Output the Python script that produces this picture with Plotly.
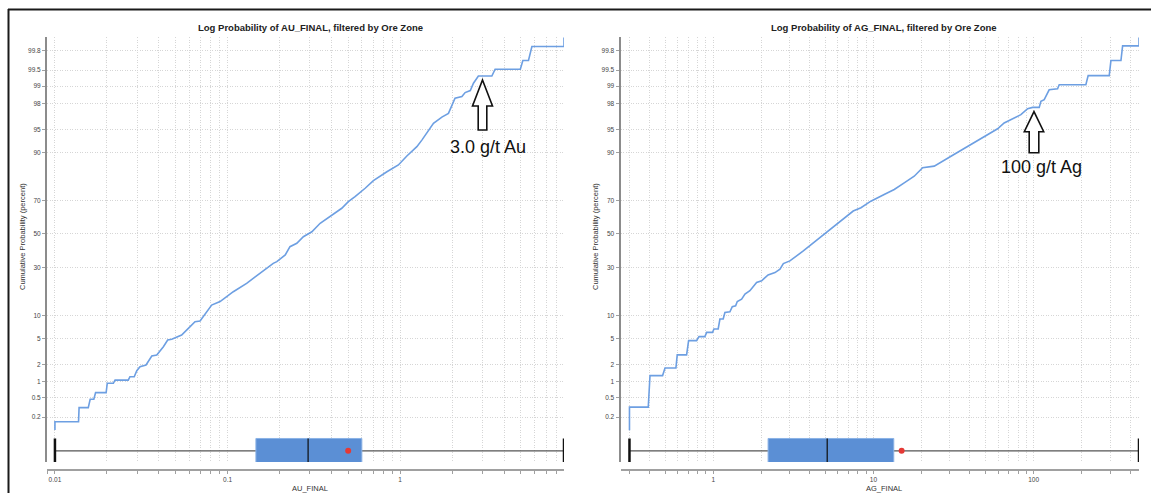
import math
from statistics import NormalDist
import plotly.graph_objects as go

# ---------------- data ----------------
au_grade = [0.01, 0.01, 0.0137, 0.0138, 0.0156, 0.0160, 0.0168, 0.0172, 0.0198, 0.0201, 0.0218, 0.0223,
            0.0266, 0.0272, 0.0288, 0.0298, 0.0311, 0.0337, 0.0364, 0.0389, 0.0425, 0.0450, 0.0475, 0.0542,
            0.0593, 0.0648, 0.0693, 0.0731, 0.0809, 0.0905, 0.108, 0.129, 0.158, 0.184, 0.193, 0.216, 0.230,
            0.252, 0.275, 0.308, 0.344, 0.402, 0.459, 0.501, 0.548, 0.627, 0.700, 0.838, 0.977, 1.094, 1.25,
            1.336, 1.56, 1.745, 1.905, 2.08, 2.28, 2.38, 2.55, 2.66, 2.84, 3.40, 3.55, 4.97, 5.14, 5.54, 5.80,
            8.9, 8.9]
au_pct = [0.103, 0.158, 0.158, 0.316, 0.316, 0.467, 0.467, 0.63, 0.63, 0.946, 0.946, 1.08, 1.08, 1.24, 1.24,
          1.58, 1.85, 1.97, 2.75, 2.85, 3.82, 4.78, 4.89, 5.61, 6.9, 8.4, 8.57, 10.1, 13.2, 14.4, 18.2, 21.9,
          27.7, 32.2, 33.2, 37.1, 42.1, 44.2, 48.3, 51.4, 56.7, 61.7, 65.7, 69.4, 72.1, 76.4, 79.9, 83.6, 86.1,
          89.0, 91.5, 93.0, 95.9, 96.7, 97.1, 98.36, 98.46, 98.69, 98.79, 99.11, 99.35, 99.35, 99.52, 99.52,
          99.68, 99.68, 99.84, 99.84, 99.90]

ag_grade = [0.3, 0.3, 0.393, 0.403, 0.483, 0.500, 0.585, 0.596, 0.682, 0.702, 0.787, 0.815, 0.887, 0.910,
            0.991, 1.01, 1.074, 1.101, 1.154, 1.183, 1.271, 1.315, 1.380, 1.413, 1.504, 1.578, 1.694, 1.762,
            1.866, 2.005, 2.20, 2.43, 2.61, 2.74, 3.01, 3.65, 4.62, 5.23, 5.89, 6.80, 7.48, 8.36, 9.64, 11.67,
            13.49, 15.57, 17.98, 20.29, 23.97, 30.5, 38.7, 49.2, 59.6, 65.5, 75.6, 83.3, 91.8, 98.6, 108.4,
            111.1, 116.5, 125.1, 141.1, 144.5, 212.0, 219.1, 296.6, 303.9, 351.0, 359.5, 455, 455]
ag_pct = [0.101, 0.324, 0.324, 1.30, 1.30, 1.76, 1.76, 2.87, 2.87, 4.68, 4.68, 5.33, 5.33, 6.09, 6.09, 6.76,
          6.76, 9.06, 9.06, 10.86, 11.07, 12.63, 12.95, 14.43, 15.3, 17.2, 18.6, 20.0, 22.3, 23.1, 26.0, 27.2,
          29.0, 32.1, 33.6, 39.5, 47.7, 51.9, 56.0, 61.1, 64.1, 66.0, 69.7, 73.3, 75.8, 78.9, 81.8, 85.1, 85.7,
          88.9, 91.6, 93.8, 95.1, 95.95, 96.58, 96.97, 97.56, 97.67, 97.67, 98.15, 98.26, 98.83, 98.88, 99.05,
          99.05, 99.36, 99.36, 99.68, 99.68, 99.845, 99.845, 99.90]

# box statistics: min, q1, median, q3, max, mean
au_box = [0.01, 0.146, 0.293, 0.60, 8.9, 0.50]
ag_box = [0.3, 2.2, 5.15, 13.4, 455, 15.0]

prob_ticks = [0.2, 0.5, 1, 2, 5, 10, 30, 50, 70, 90, 95, 98, 99, 99.5, 99.8]
prob_labels = ["0.2", "0.5", "1", "2", "5", "10", "30", "50", "70", "90", "95", "98", "99", "99.5", "99.8"]

titles = ["Log Probability of AU_FINAL, filtered by Ore Zone", "Log Probability of AG_FINAL, filtered by Ore Zone"]
x_titles = ["AU_FINAL", "AG_FINAL"]
y_title = "Cumulative Probability (percent)"
notes = ["3.0 g/t Au", "100 g/t Ag"]

# ---------------- styling / layout ----------------
W, H = 1151, 493
FONT = "Liberation Sans, Arial, sans-serif"
ND = NormalDist()


def z(p):
    return ND.inv_cdf(p / 100.0)


def PX(px):
    return px / W


def PY(py):
    return 1 - py / H


CURVE = "#6d9fe2"
BOX_FILL = "#5b8fd5"
BOX_EDGE = "#8ab2e6"
GRID = "#d6d6d6"
GRID_DASH = "1px,1.5px"
AXIS = "#a0a0a0"

Y_RANGE = [-3.585, 3.097]
BOX_Z = -3.41
BOX_H = 0.195

panels = [
    dict(grade=au_grade, pct=au_pct, box=au_box, xdom=[47, 564], pad=0.046, xt=310, yt=22, tt=310.5,
         arrow=dict(cx=482.5, tip=80, head=106, hh=10, sh=4.3, bot=130), note=(488, 147)),
    dict(grade=ag_grade, pct=ag_pct, box=ag_box, xdom=[620.5, 1139], pad=0.056, xt=884, yt=595, tt=884,
         arrow=dict(cx=1034, tip=111.7, head=131.7, hh=9.7, sh=4.8, bot=152.7), note=(1041, 167)),
]

fig = go.Figure()
shapes = []
annotations = []
layout_axes = {}

for i, pn in enumerate(panels):
    sfx = "" if i == 0 else str(i + 1)
    xa, ya = "x" + sfx, "y" + sfx
    mn, q1, med, q3, mx, mean = pn["box"]

    # curve
    fig.add_trace(go.Scatter(x=pn["grade"], y=[z(p) for p in pn["pct"]], mode="lines",
                             line=dict(color=CURVE, width=1.6), xaxis=xa, yaxis=ya,
                             showlegend=False, hoverinfo="skip"))
    # whisker
    fig.add_trace(go.Scatter(x=[mn, mx], y=[BOX_Z, BOX_Z], mode="lines",
                             line=dict(color="#555555", width=1.4), xaxis=xa, yaxis=ya, showlegend=False))
    # caps
    for v in (mn, mx):
        fig.add_trace(go.Scatter(x=[v, v], y=[BOX_Z - BOX_H, BOX_Z + BOX_H], mode="lines",
                                 line=dict(color="#111111", width=2.5), xaxis=xa, yaxis=ya, showlegend=False))
    # box
    fig.add_trace(go.Scatter(x=[q1, q3, q3, q1, q1],
                             y=[BOX_Z - BOX_H, BOX_Z - BOX_H, BOX_Z + BOX_H, BOX_Z + BOX_H, BOX_Z - BOX_H],
                             mode="lines", fill="toself", fillcolor=BOX_FILL,
                             line=dict(color=BOX_EDGE, width=1), xaxis=xa, yaxis=ya, showlegend=False))
    # median
    fig.add_trace(go.Scatter(x=[med, med], y=[BOX_Z - BOX_H, BOX_Z + BOX_H], mode="lines",
                             line=dict(color="#1c2633", width=1.5), xaxis=xa, yaxis=ya, showlegend=False))
    # mean
    fig.add_trace(go.Scatter(x=[mean], y=[BOX_Z], mode="markers",
                             marker=dict(color="#e53935", size=6), xaxis=xa, yaxis=ya, showlegend=False))

    # x ticks (log, every 1..9 multiple)
    lo = math.log10(mn) - pn["pad"]
    hi = math.log10(mx)
    tv, tt = [], []
    for d in range(math.floor(lo), math.ceil(hi) + 1):
        for m in range(1, 10):
            v = m * 10 ** d
            if 10 ** lo <= v <= 10 ** hi * 1.0001:
                tv.append(v)
                tt.append(("%g" % v) if m == 1 else "")
    layout_axes["xaxis" + sfx] = dict(
        type="log", domain=[PX(pn["xdom"][0]), PX(pn["xdom"][1])], range=[lo, hi],
        anchor="free", position=PY(470), tickvals=tv, ticktext=tt, ticks="outside", ticklen=3,
        tickcolor=AXIS, tickwidth=1, showgrid=True, gridcolor=GRID, griddash=GRID_DASH, gridwidth=1,
        showline=True, linecolor=AXIS, linewidth=2, zeroline=False,
        tickfont=dict(size=6.5, color="#444444", family=FONT))
    layout_axes["yaxis" + sfx] = dict(
        domain=[PY(462), PY(37)], range=Y_RANGE, anchor=xa,
        tickvals=[z(p) for p in prob_ticks], ticktext=prob_labels, ticks="outside", ticklen=3,
        tickcolor=AXIS, showgrid=True, gridcolor=GRID, griddash=GRID_DASH, gridwidth=1,
        showline=True, linecolor="#8c8c8c", linewidth=2, zeroline=False,
        tickfont=dict(size=6.5, color="#444444", family=FONT))

    # titles
    annotations.append(dict(text="<b>%s</b>" % titles[i], x=PX(pn["tt"]), y=PY(28), xref="paper", yref="paper",
                            showarrow=False, font=dict(size=9.5, color="#222222", family=FONT),
                            xanchor="center", yanchor="middle"))
    annotations.append(dict(text=x_titles[i], x=PX(pn["xt"]), y=PY(488), xref="paper", yref="paper",
                            showarrow=False, font=dict(size=7.5, color="#333333", family=FONT),
                            xanchor="center", yanchor="middle"))
    annotations.append(dict(text=y_title, x=PX(pn["yt"]), y=PY(237), xref="paper", yref="paper",
                            showarrow=False, textangle=-90, font=dict(size=7.5, color="#333333", family=FONT),
                            xanchor="center", yanchor="middle"))
    annotations.append(dict(text=notes[i], x=PX(pn["note"][0]), y=PY(pn["note"][1]), xref="paper", yref="paper",
                            showarrow=False, font=dict(size=18, color="#111111", family=FONT),
                            xanchor="center", yanchor="middle"))

    # hollow block arrow (decoration)
    a = pn["arrow"]
    pts = [(a["cx"], a["tip"]), (a["cx"] + a["hh"], a["head"]), (a["cx"] + a["sh"], a["head"]),
           (a["cx"] + a["sh"], a["bot"]), (a["cx"] - a["sh"], a["bot"]), (a["cx"] - a["sh"], a["head"]),
           (a["cx"] - a["hh"], a["head"])]
    path = "M " + " L ".join("%f,%f" % (PX(x), PY(y)) for x, y in pts) + " Z"
    shapes.append(dict(type="path", path=path, xref="paper", yref="paper",
                       line=dict(color="#111111", width=1.6), fillcolor="white", layer="above"))

# outer frame (top and left edges)
shapes.append(dict(type="line", xref="paper", yref="paper", x0=PX(8), x1=1, y0=PY(9.5), y1=PY(9.5),
                   line=dict(color="#1a1a1a", width=2)))
shapes.append(dict(type="line", xref="paper", yref="paper", x0=PX(8.5), x1=PX(8.5), y0=PY(9), y1=0,
                   line=dict(color="#1a1a1a", width=2)))

fig.update_layout(
    width=W, height=H, margin=dict(l=0, r=0, t=0, b=0),
    paper_bgcolor="white", plot_bgcolor="white",
    font=dict(family=FONT), showlegend=False,
    shapes=shapes, annotations=annotations, **layout_axes)

fig.write_html("out.html", config={"displayModeBar": False})

# remove the browser's default page margin so the figure sits at the window's top-left corner
with open("out.html", "r", encoding="utf-8") as f:
    html = f.read()
html = html.replace("<body>", '<body style="margin:0;padding:0;">', 1)
with open("out.html", "w", encoding="utf-8") as f:
    f.write(html)
